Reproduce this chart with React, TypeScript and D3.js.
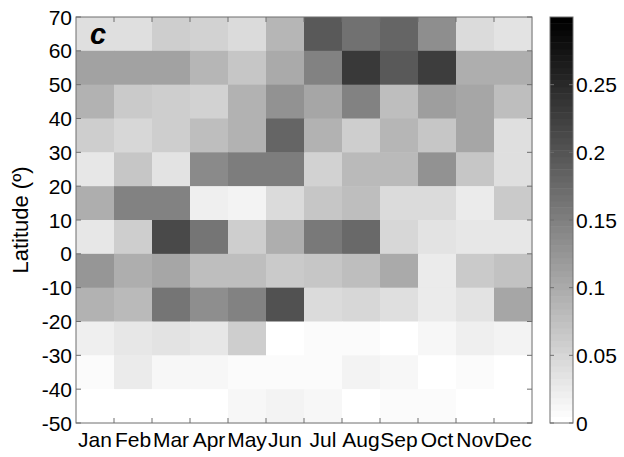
import React from "react";
import * as d3 from "d3";

// Month categories along x
const months = ["Jan", "Feb", "Mar", "Apr", "May", "Jun", "Jul", "Aug", "Sep", "Oct", "Nov", "Dec"];
// Lower edge of each 10° latitude band, north to south
const latBands = [60, 50, 40, 30, 20, 10, 0, -10, -20, -30, -40, -50];
// Values per band (rows, north to south) and month (columns)
const band60 = [0.041, 0.041, 0.060, 0.053, 0.044, 0.088, 0.194, 0.168, 0.180, 0.135, 0.044, 0.036];
const band50 = [0.109, 0.109, 0.109, 0.088, 0.069, 0.102, 0.149, 0.234, 0.196, 0.229, 0.098, 0.098];
const band40 = [0.093, 0.065, 0.060, 0.053, 0.093, 0.131, 0.105, 0.149, 0.079, 0.116, 0.107, 0.076];
const band30 = [0.060, 0.051, 0.060, 0.079, 0.093, 0.180, 0.093, 0.060, 0.088, 0.069, 0.107, 0.041];
const band20 = [0.032, 0.069, 0.036, 0.138, 0.154, 0.154, 0.055, 0.084, 0.084, 0.131, 0.069, 0.041];
const band10 = [0.098, 0.149, 0.149, 0.020, 0.018, 0.044, 0.069, 0.079, 0.044, 0.046, 0.027, 0.065];
const band0 = [0.029, 0.058, 0.213, 0.161, 0.060, 0.095, 0.159, 0.178, 0.048, 0.034, 0.029, 0.029];
const bandM10 = [0.124, 0.095, 0.107, 0.079, 0.079, 0.065, 0.069, 0.076, 0.102, 0.027, 0.065, 0.074];
const bandM20 = [0.093, 0.084, 0.164, 0.133, 0.149, 0.206, 0.046, 0.051, 0.041, 0.025, 0.036, 0.105];
const bandM30 = [0.020, 0.032, 0.036, 0.032, 0.060, 0.004, 0.006, 0.006, 0.000, 0.011, 0.022, 0.015];
const bandM40 = [0.008, 0.025, 0.013, 0.011, 0.006, 0.008, 0.008, 0.018, 0.011, 0.000, 0.008, 0.000];
const bandM50 = [0.000, 0.000, 0.000, 0.000, 0.013, 0.018, 0.011, 0.000, 0.008, 0.008, 0.000, 0.000];
const grid = [band60, band50, band40, band30, band20, band10, band0, bandM10, bandM20, bandM30, bandM40, bandM50];

const yTicks = [-50, -40, -30, -20, -10, 0, 10, 20, 30, 40, 50, 60, 70];
const cbarTicks = [0, 0.05, 0.1, 0.15, 0.2, 0.25];
const cmin = 0;
const cmax = 0.3;
const nLevels = 64;

const FONT = "'Liberation Sans', Arial, sans-serif";
const FS = 21;

export default function App() {
  const W = 624;
  const H = 457;
  const plot = { left: 76, right: 532, top: 17, bottom: 423 };
  const cbar = { left: 550, right: 573 };

  const x = d3.scaleBand<string>().domain(months).range([plot.left, plot.right]).paddingInner(0).paddingOuter(0);
  const y = d3.scaleLinear().domain([-50, 70]).range([plot.bottom, plot.top]);
  const cy = d3.scaleLinear().domain([cmin, cmax]).range([plot.bottom, plot.top]);

  const grays = d3.range(nLevels).map((i) => {
    const g = Math.round(255 * (1 - i / (nLevels - 1)));
    return d3.rgb(g, g, g).formatHex();
  });
  const color = d3.scaleQuantize<string>().domain([cmin, cmax]).range(grays);

  const axisColor = "#6e6e6e";
  const tickLen = 5;
  const bw = x.bandwidth();
  const levelStep = (cmax - cmin) / nLevels;

  return (
    <svg width={W} height={H} style={{ position: "absolute", left: 0, top: 0, background: "#fff" }} fontFamily={FONT}>
      {/* heatmap cells */}
      {grid.map((row, ri) =>
        row.map((v, ci) => (
          <rect
            key={`${ri}-${ci}`}
            x={x(months[ci])!}
            y={y(latBands[ri] + 10)}
            width={bw + 0.5}
            height={y(latBands[ri]) - y(latBands[ri] + 10) + 0.5}
            fill={color(v)}
          />
        ))
      )}

      {/* axes box */}
      <rect x={plot.left} y={plot.top} width={plot.right - plot.left} height={plot.bottom - plot.top} fill="none" stroke={axisColor} strokeWidth={1} />

      {/* y ticks and labels */}
      {yTicks.map((t) => (
        <g key={`y${t}`}>
          <line x1={plot.left} x2={plot.left + tickLen} y1={y(t)} y2={y(t)} stroke={axisColor} />
          <line x1={plot.right} x2={plot.right - tickLen} y1={y(t)} y2={y(t)} stroke={axisColor} />
          <text x={plot.left - 4} y={y(t)} dy="0.36em" textAnchor="end" fontSize={FS} fill="#000">
            {t}
          </text>
        </g>
      ))}

      {/* x ticks on band boundaries, labels at band centres */}
      {months.map((m, i) => (
        <g key={m}>
          {i > 0 && (
            <>
              <line x1={x(m)!} x2={x(m)!} y1={plot.bottom} y2={plot.bottom - tickLen} stroke={axisColor} />
              <line x1={x(m)!} x2={x(m)!} y1={plot.top} y2={plot.top + tickLen} stroke={axisColor} />
            </>
          )}
          <text x={x(m)! + bw / 2} y={447} textAnchor="middle" fontSize={FS} fill="#000">
            {m}
          </text>
        </g>
      ))}

      {/* y-axis title */}
      <text transform={`translate(28,220) rotate(-90)`} textAnchor="middle" fontSize={22} fill="#000">
        Latitude (º)
      </text>

      {/* panel letter */}
      <text x={90} y={44} fontSize={29} fontWeight="bold" fontStyle="italic" fill="#000">
        c
      </text>

      {/* colorbar */}
      {grays.map((g, i) => (
        <rect
          key={`cb${i}`}
          x={cbar.left}
          y={cy(cmin + (i + 1) * levelStep)}
          width={cbar.right - cbar.left}
          height={cy(cmin + i * levelStep) - cy(cmin + (i + 1) * levelStep) + 0.5}
          fill={g}
        />
      ))}
      <rect x={cbar.left} y={plot.top} width={cbar.right - cbar.left} height={plot.bottom - plot.top} fill="none" stroke={axisColor} />
      {cbarTicks.map((t) => (
        <g key={`c${t}`}>
          <line x1={cbar.left} x2={cbar.left + 4} y1={cy(t)} y2={cy(t)} stroke={axisColor} />
          <line x1={cbar.right} x2={cbar.right - 4} y1={cy(t)} y2={cy(t)} stroke={axisColor} />
          <text x={cbar.right + 3} y={cy(t)} dy="0.36em" fontSize={FS} fill="#000">
            {t}
          </text>
        </g>
      ))}
    </svg>
  );
}
